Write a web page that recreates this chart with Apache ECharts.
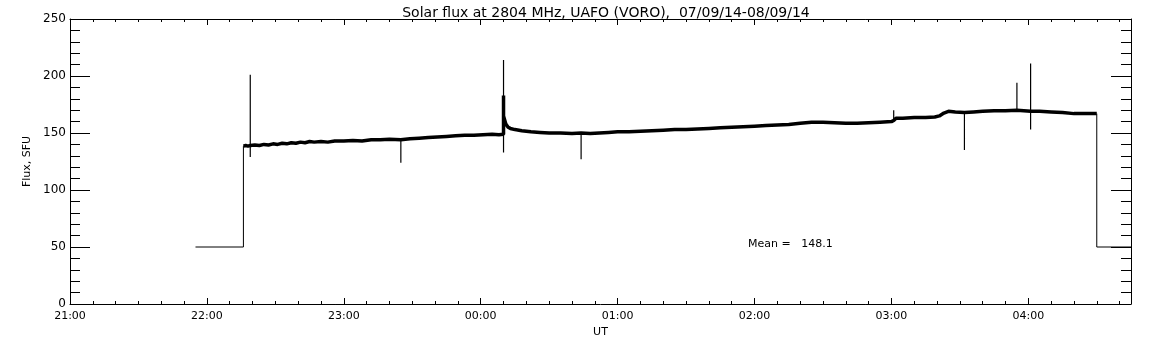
<!DOCTYPE html>
<html>
<head>
<meta charset="utf-8">
<script src="https://cdn.jsdelivr.net/npm/echarts@6/dist/echarts.min.js"></script>
<style>
  html, body { margin: 0; padding: 0; background: #fff; }
  #chart { width: 1152px; height: 345px; }
</style>
</head>
<body>
<div id="chart"></div>
<script>
// flux record, UT, values in SFU
const fluxTimes = ['22:16','22:17','22:18','22:19','22:21','22:23','22:25','22:27','22:29','22:31',
  '22:33','22:35','22:37','22:39','22:41','22:43','22:45','22:47','22:50','22:53','22:56','23:00',
  '23:04','23:08','23:12','23:16','23:20','23:25','23:29','23:33','23:37','23:41','23:45','23:49',
  '23:53','23:57','00:01','00:05','00:08','00:10','00:10','00:10','00:11','00:12','00:13','00:15','00:18',
  '00:22','00:26','00:30','00:35','00:40','00:44','00:48','00:52','00:56','01:00','01:05','01:10',
  '01:15','01:20','01:25','01:30','01:35','01:40','01:45','01:50','01:55','02:00','02:05','02:10',
  '02:15','02:20','02:25','02:30','02:35','02:40','02:45','02:50','02:55','03:00','03:01','03:02',
  '03:05','03:10','03:15','03:19','03:21','03:23','03:25','03:28','03:32','03:36','03:40','03:45',
  '03:50','03:55','03:58','04:01','04:05','04:10','04:15','04:20','04:25','04:30'];
const fluxValues = [138.5,139,138.5,139,139.5,139,140,139.5,140.5,140,
  141,140.5,141.5,141,142,141.5,142.5,142,142.5,142,143,143,
  143.5,143,144,144,144.5,144,145,145.5,146,146.5,147,147.5,
  148,148,148.5,149,148.5,149,183,165,158,155,154,153,152,
  151,150.5,150,150,149.5,150,149.5,150,150.5,151,151,151.5,
  152,152.5,153,153,153.5,154,154.5,155,155.5,156,156.5,157,
  157.5,158.5,159.5,159.5,159,158.5,158.5,159,159.5,160,161,163,
  163,163.5,163.5,164,165,167.5,169,168.5,168,168.5,169,169.5,
  169.5,170,169.5,169,169,168.5,168,167,167,167];

// short spikes (time, lowest, highest)
const spikeTimes = ['22:19','23:25','00:10','00:44','03:01','03:32','03:55','04:01'];
const spikeLow = [129,124,133,127,161,135,170,153];
const spikeHigh = [201,145,214,150,170,168,194,211];

// receiver off / calibration level before and after the record
const stepTimes = ['21:55','22:16','22:16',null,'04:30','04:30','04:45'];
const stepValues = [50,50,138.5,null,167,50,50];

const xTickLabels = ['21:00','22:00','23:00','00:00','01:00','02:00','03:00','04:00'];
const meanFlux = 148.1;

function toMin(t) {
  var p = t.split(':');
  var h = parseInt(p[0]), m = parseInt(p[1]);
  return ((h - 21 + 24) % 24) * 60 + m;
}

var fluxData = fluxTimes.map((t, i) => [toMin(t), fluxValues[i]]);
var spikeData = [];
spikeTimes.forEach((t, i) => {
  spikeData.push([toMin(t), spikeLow[i]]);
  spikeData.push([toMin(t), spikeHigh[i]]);
  spikeData.push('-');
});
var stepData = stepTimes.map((t, i) => t === null ? '-' : [toMin(t), stepValues[i]]);

var font = 'DejaVu Sans';
var lineStyle = { color: '#000', width: 1 };
// onZero off, or the mirror axes snap onto the main ones
var axisLine = { show: true, onZero: false, lineStyle: lineStyle };

var chart = echarts.init(document.getElementById('chart'), null, { renderer: 'canvas' });
var option = {
  animation: false,
  backgroundColor: '#fff',
  title: {
    text: 'Solar flux at 2804 MHz, UAFO (VORO),  07/09/14-08/09/14',
    left: 601,
    textAlign: 'center',
    top: 1,
    textStyle: { fontFamily: font, fontSize: 14, fontWeight: 'normal', color: '#000' }
  },
  grid: { left: 70, right: 21, top: 19, bottom: 41 },
  xAxis: [{
    type: 'value',
    min: 0, max: 465, interval: 60,
    name: 'UT', nameLocation: 'middle', nameGap: 20,
    nameTextStyle: { fontFamily: font, fontSize: 11, color: '#000' },
    axisLine: axisLine,
    axisTick: { inside: true, length: 6, lineStyle: lineStyle },
    minorTick: { show: true, splitNumber: 6, length: 3, lineStyle: lineStyle },
    splitLine: { show: false },
    axisLabel: {
      fontFamily: font, fontSize: 11, color: '#000', margin: 7,
      formatter: v => xTickLabels[Math.round(v / 60)] || ''
    }
  }, {
    type: 'value', position: 'top',
    min: 0, max: 465, interval: 60,
    axisLine: axisLine,
    axisTick: { inside: true, length: 6, lineStyle: lineStyle },
    minorTick: { show: true, splitNumber: 6, length: 3, lineStyle: lineStyle },
    splitLine: { show: false },
    axisLabel: { show: false }
  }],
  yAxis: [{
    type: 'value',
    min: 0, max: 250, interval: 50,
    name: 'Flux, SFU', nameLocation: 'middle', nameGap: 26,
    nameTextStyle: { fontFamily: font, fontSize: 11, color: '#000' },
    axisLine: axisLine,
    axisTick: { show: true, inside: true, length: 20, lineStyle: lineStyle },
    minorTick: { show: true, splitNumber: 5, length: 10, lineStyle: lineStyle },
    splitLine: { show: false },
    axisLabel: { fontFamily: font, fontSize: 12, color: '#000', margin: 4 }
  }, {
    type: 'value', position: 'right',
    min: 0, max: 250, interval: 50,
    axisLine: axisLine,
    axisTick: { show: true, inside: true, length: 20, lineStyle: lineStyle },
    minorTick: { show: true, splitNumber: 5, length: 10, lineStyle: lineStyle },
    splitLine: { show: false },
    axisLabel: { show: false }
  }],
  series: [{
    name: 'Flux',
    type: 'line',
    data: fluxData,
    showSymbol: false,
    lineStyle: { color: '#000', width: 3.5 }
  }, {
    name: 'Spikes',
    type: 'line',
    data: spikeData,
    showSymbol: false,
    connectNulls: false,
    lineStyle: { color: '#000', width: 1.2 }
  }, {
    name: 'Level',
    type: 'line',
    data: stepData,
    showSymbol: false,
    connectNulls: false,
    lineStyle: { color: '#000', width: 1 }
  }],
  graphic: [{
    type: 'text',
    left: 748, top: 239,
    style: { text: 'Mean =   ' + meanFlux.toFixed(1), fontFamily: font, fontSize: 11, fill: '#000' }
  }]
};
chart.setOption(option);
</script>
</body>
</html>
